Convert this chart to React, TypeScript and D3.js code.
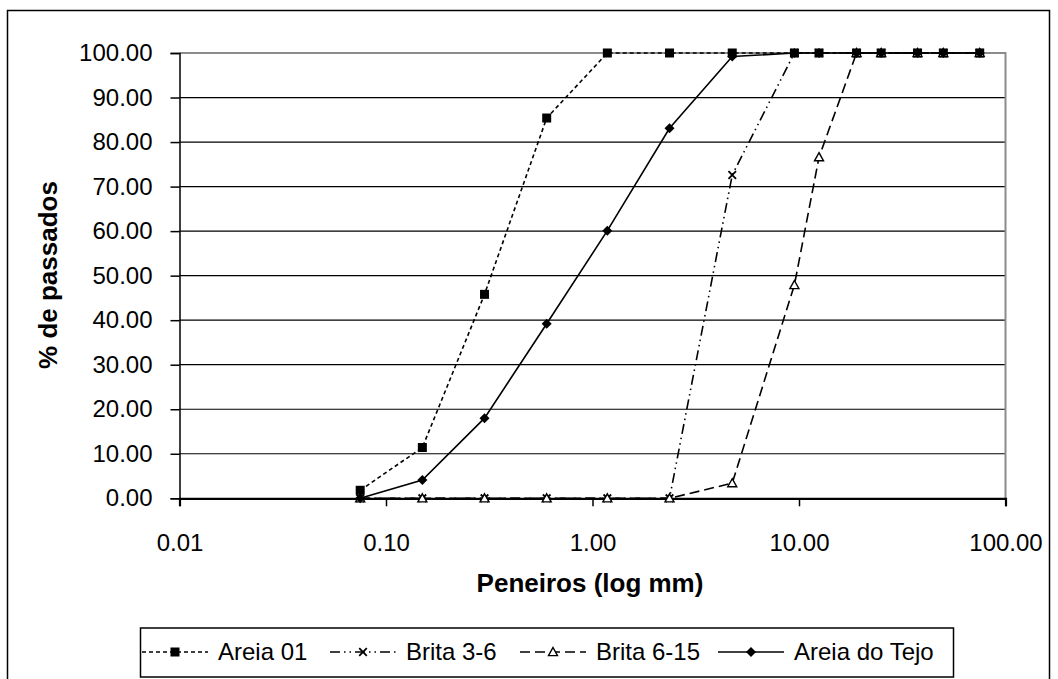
import { useEffect, useRef } from 'react'
import * as d3 from 'd3'

// sieve openings (mm) and % passing per material
const sieves = [0.075, 0.15, 0.3, 0.6, 1.18, 2.36, 4.75, 9.5, 12.5, 19, 25, 37.5, 50, 75]
const areia01 = [1.8, 11.4, 45.8, 85.4, 100, 100, 100, 100, 100, 100, 100, 100, 100, 100]
const brita36 = [0, 0, 0, 0, 0, 0, 72.6, 100, 100, 100, 100, 100, 100, 100]
const brita615 = [0, 0, 0, 0, 0, 0, 3.4, 47.9, 76.6, 100, 100, 100, 100, 100]
const areiaTejo = [0, 4.1, 18.0, 39.2, 60.1, 83.1, 99.2, 100, 100, 100, 100, 100, 100, 100]

const xTicks = [0.01, 0.1, 1, 10, 100]
const yTicks = [0, 10, 20, 30, 40, 50, 60, 70, 80, 90, 100]

const SERIES = [
  { name: 'Areia 01', values: areia01, dash: '4,3', marker: 'square' },
  { name: 'Brita 3-6', values: brita36, dash: '10,4,1.5,4,1.5,4', marker: 'x' },
  { name: 'Brita 6-15', values: brita615, dash: '10,5', marker: 'triangle' },
  { name: 'Areia do Tejo', values: areiaTejo, dash: null, marker: 'diamond' },
]

const FONT = '"Liberation Sans", Arial, sans-serif'

function drawMarker(g, type, x, y) {
  if (type === 'square') {
    g.append('rect').attr('x', x - 4.5).attr('y', y - 4.5).attr('width', 9).attr('height', 9).attr('fill', '#000')
  } else if (type === 'diamond') {
    const s = 5
    g.append('path').attr('d', `M${x},${y - s}L${x + s},${y}L${x},${y + s}L${x - s},${y}Z`).attr('fill', '#000')
  } else if (type === 'triangle') {
    const s = 4.5
    g.append('path')
      .attr('d', `M${x},${y - s} L${x + s},${y + s * 0.8} L${x - s},${y + s * 0.8} Z`)
      .attr('fill', '#fff').attr('stroke', '#000').attr('stroke-width', 1.4)
  } else {
    const s = 3.8
    g.append('path')
      .attr('d', `M${x - s},${y - s}L${x + s},${y + s}M${x + s},${y - s}L${x - s},${y + s}`)
      .attr('stroke', '#000').attr('stroke-width', 1.8)
  }
}

export default function App() {
  const svgRef = useRef(null)

  useEffect(() => {
    const el = svgRef.current
    if (!el) return
    const svg = d3.select(el)
    svg.selectAll('*').remove()

    const left = 179.5, right = 1005.5, top = 53, bottom = 498.3

    const xScale = d3.scaleLog().domain([0.01, 100]).range([left, right])
    const yScale = d3.scaleLinear().domain([0, 100]).range([bottom, top])

    // outer frame
    svg.append('rect').attr('x', 7.5).attr('y', 10.5).attr('width', 1042).attr('height', 700)
      .attr('fill', '#fff').attr('stroke', '#000').attr('stroke-width', 1.5)

    // grid lines
    yTicks.filter((t) => t > 0 && t < 100).forEach((t) => {
      svg.append('line').attr('x1', left).attr('x2', right)
        .attr('y1', yScale(t)).attr('y2', yScale(t))
        .attr('stroke', '#000').attr('stroke-width', 1.2)
    })

    // plot area border (grey)
    svg.append('path')
      .attr('d', `M${left},${top}H${right}V${bottom}`)
      .attr('fill', 'none').attr('stroke', '#8c8c8c').attr('stroke-width', 2)

    // y axis
    const yAxis = svg.append('g').attr('transform', `translate(${left},0)`)
      .call(d3.axisLeft(yScale).tickValues(yTicks).tickSize(9).tickPadding(18).tickFormat((d) => d.toFixed(2)))
    yAxis.select('.domain').attr('stroke', '#000').attr('stroke-width', 1.5)
    yAxis.selectAll('line').attr('stroke', '#000').attr('stroke-width', 1.5)
    yAxis.selectAll('text').attr('fill', '#000').style('font-size', '24px').style('font-family', FONT)

    // x axis
    const xAxis = svg.append('g').attr('transform', `translate(0,${bottom})`)
      .call(d3.axisBottom(xScale).tickValues(xTicks).tickSize(8).tickPadding(28).tickFormat((d) => d.toFixed(2)))
    xAxis.select('.domain').attr('stroke', '#000').attr('stroke-width', 2.2)
    xAxis.selectAll('line').attr('stroke', '#000').attr('stroke-width', 1.5)
    xAxis.selectAll('text').attr('fill', '#000').style('font-size', '24px').style('font-family', FONT)

    // axis titles
    svg.append('text').attr('x', 590).attr('y', 592)
      .attr('text-anchor', 'middle').style('font-size', '26px').style('font-weight', 'bold')
      .style('font-family', FONT).text('Peneiros (log mm)')
    svg.append('text').attr('transform', 'translate(57,275) rotate(-90)')
      .attr('text-anchor', 'middle').style('font-size', '26px').style('font-weight', 'bold')
      .style('font-family', FONT).text('% de passados')

    // series
    const line = d3.line().x((d) => xScale(d[0])).y((d) => yScale(d[1]))
    SERIES.forEach((s) => {
      const pts = sieves.map((x, i) => [x, s.values[i]])
      svg.append('path').attr('d', line(pts)).attr('fill', 'none')
        .attr('stroke', '#000').attr('stroke-width', 1.6)
        .attr('stroke-dasharray', s.dash)
      const mg = svg.append('g')
      pts.forEach((p) => drawMarker(mg, s.marker, xScale(p[0]), yScale(p[1])))
    })

    // legend
    const lg = svg.append('g')
    lg.append('rect').attr('x', 140.5).attr('y', 628).attr('width', 813).attr('height', 49)
      .attr('fill', '#fff').attr('stroke', '#000').attr('stroke-width', 1.5)
    const legendX = [142, 330, 520, 718]
    SERIES.forEach((s, i) => {
      const x0 = legendX[i], x1 = x0 + 66, y = 652
      lg.append('line').attr('x1', x0).attr('x2', x1).attr('y1', y).attr('y2', y)
        .attr('stroke', '#000').attr('stroke-width', 1.6).attr('stroke-dasharray', s.dash)
      drawMarker(lg, s.marker, (x0 + x1) / 2, y)
      lg.append('text').attr('x', x0 + 76).attr('y', y).attr('dy', '0.35em')
        .style('font-size', '24px').style('font-family', FONT).text(s.name)
    })
  }, [])

  return (
    <svg ref={svgRef} width={1058} height={679}
      style={{ position: 'absolute', left: 0, top: 0, background: '#fff' }} />
  )
}
